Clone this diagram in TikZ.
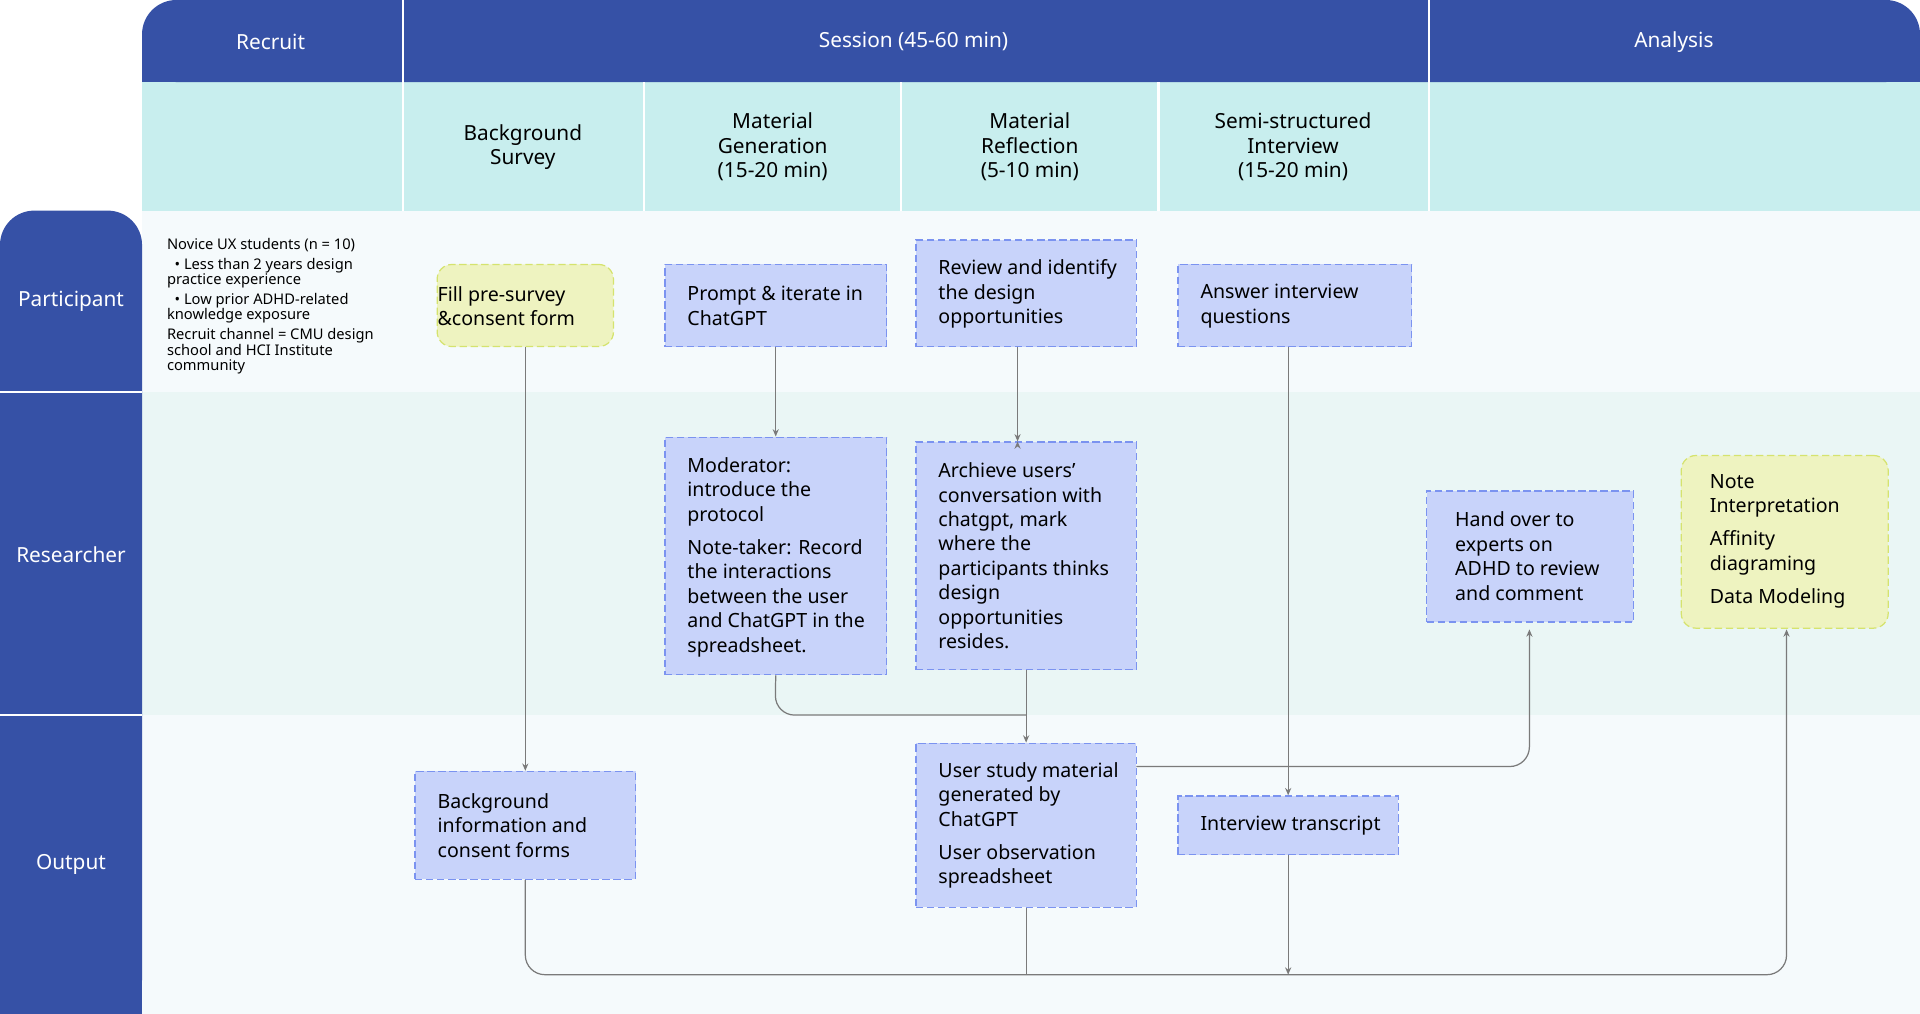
\documentclass[tikz,border=0pt]{standalone}
\usepackage{fontspec}
\setmainfont{Noto Sans}
\usetikzlibrary{fit,arrows.meta}
\definecolor{dblue}{HTML}{3651A6}
\definecolor{teal}{HTML}{C8EEEE}
\definecolor{rowA}{HTML}{F5FAFC}
\definecolor{rowB}{HTML}{EAF6F5}
\definecolor{bfill}{HTML}{C8D3FA}
\definecolor{bline}{HTML}{7B93F0}
\definecolor{yfill}{HTML}{EEF3C0}
\definecolor{yline}{HTML}{D5E36E}
\definecolor{conn}{HTML}{7A7A7A}
\begin{document}
\begin{tikzpicture}[x=0.5pt,y=-0.5pt,
  box/.style={draw=bline,fill=bfill,dash pattern=on 3pt off 1.5pt,line width=0.5pt,inner sep=0pt,align=left,font=\fontsize{8}{10}\selectfont},
  ybox/.style={box,draw=yline,fill=yfill,rounded corners=6pt},
  hd/.style={text=white,font=\fontsize{8.5}{10}\selectfont},
  sub/.style={align=center,font=\fontsize{8.5}{10}\selectfont},
  arr/.style={draw=conn,line width=0.5pt,-{Stealth[length=3pt,width=2.5pt]},rounded corners=8pt},
  ln/.style={draw=conn,line width=0.5pt,rounded corners=8pt}]
\useasboundingbox (0,0) rectangle (1568,828);
% backgrounds
\fill[rowA] (116,172) rectangle (1568,320);
\fill[rowB] (116,320) rectangle (1568,584);
\fill[rowA] (116,584) rectangle (1568,828);
\fill[teal] (116,67) rectangle (1568,172);
\fill[dblue,rounded corners=14pt] (116,67) -- (116,0) -- (1568,0) -- (1568,67) -- cycle;
\fill[dblue] (116,40) rectangle (1568,67);
\fill[dblue,rounded corners=14pt] (116,828) -- (0,828) -- (0,172) -- (116,172) -- cycle;
\fill[dblue] (0,600) rectangle (116,828);
\draw[white,line width=1pt] (329,0) -- (329,172) (1167,0) -- (1167,172);
\draw[white,line width=1pt] (526,67) -- (526,172) (736,67) -- (736,172) (946,67) -- (946,172);
\draw[white,line width=1pt] (0,320) -- (116,320) (0,584) -- (116,584);
% header labels
\node[hd] (h1) at (221,34) {Recruit};
\node[hd] (h2) at (746,34) {Session (45-60 min)};
\node[hd] (h3) at (1367,34) {Analysis};
\node[sub] (s1) at (427,120) {Background\\Survey};
\node[sub] (s2) at (631,120) {Material\\Generation\\(15-20 min)};
\node[sub] (s3) at (841,120) {Material\\Reflection\\(5-10 min)};
\node[sub] (s4) at (1056,120) {Semi-structured\\Interview\\(15-20 min)};
\node[hd] (r1) at (58,246) {Participant};
\node[hd] (r2) at (58,453) {Researcher};
\node[hd] (r3) at (58,706) {Output};
\node[anchor=north west,align=left,inner sep=0pt,font=\fontsize{6}{6.2}\selectfont] (rec) at (136,194)
 {Novice UX students (n = 10)\\[2pt]
 \ \ • Less than 2 years design\\practice experience\\[2pt]
 \ \ • Low prior ADHD-related\\knowledge exposure\\[2pt]
 Recruit channel = CMU design\\school and HCI Institute\\community};
% boxes
\node[ybox,fit={(339,216)(519,283)},text width=144pt*0.5] (fill) {};
\node[align=left,inner sep=0pt,font=\fontsize{8}{10}\selectfont,anchor=west] at (357,250) {Fill pre-survey\\\&consent form};
\node[box,fit={(543,216)(724,283)}] (prompt) {};
\node[align=left,inner sep=0pt,font=\fontsize{8}{10}\selectfont,anchor=west] at (561,250) {Prompt \& iterate in\\ChatGPT};
\node[box,fit={(748,196)(928,283)}] (review) {};
\node[align=left,inner sep=0pt,font=\fontsize{8}{10}\selectfont,anchor=west] at (766,240) {Review and identify\\the design\\opportunities};
\node[box,fit={(962,216)(1153,283)}] (answer) {};
\node[align=left,inner sep=0pt,font=\fontsize{8}{10}\selectfont,anchor=west] at (980,250) {Answer interview\\questions};
\node[box,fit={(543,357)(724,551)}] (mod) {};
\node[align=left,inner sep=0pt,font=\fontsize{8}{10}\selectfont,anchor=west] at (561,455) {Moderator:\\introduce the\\protocol\\[3.5pt]Note-taker: Record\\the interactions\\between the user\\and ChatGPT in the\\spreadsheet.};
\node[box,fit={(748,361)(928,547)}] (arch) {};
\node[align=left,inner sep=0pt,font=\fontsize{8}{10}\selectfont,anchor=west] at (766,454) {Archieve users'\\conversation with\\chatgpt, mark\\where the\\participants thinks\\design\\opportunities\\resides.};
\node[box,fit={(1165,401)(1334,508)}] (hand) {};
\node[align=left,inner sep=0pt,font=\fontsize{8}{10}\selectfont,anchor=west] at (1188,454) {Hand over to\\experts on\\ADHD to review\\and comment};
\node[ybox,fit={(1373,372)(1542,513)}] (note) {};
\node[align=left,inner sep=0pt,font=\fontsize{8}{10}\selectfont,anchor=west] at (1396,442) {Note\\Interpretation\\[3.5pt]Affinity\\diagraming\\[3.5pt]Data Modeling};
\node[box,fit={(339,630)(519,718)}] (bg) {};
\node[align=left,inner sep=0pt,font=\fontsize{8}{10}\selectfont,anchor=west] at (357,674) {Background\\information and\\consent forms};
\node[box,fit={(748,607)(928,741)}] (usm) {};
\node[align=left,inner sep=0pt,font=\fontsize{8}{10}\selectfont,anchor=west] at (766,674) {User study material\\generated by\\ChatGPT\\[3.5pt]User observation\\spreadsheet};
\node[box,fit={(962,650)(1142,698)}] (tr) {};
\node[align=left,inner sep=0pt,font=\fontsize{8}{10}\selectfont,anchor=west] at (980,674) {Interview transcript};
% connectors
\draw[arr] (fill.south) -- (bg.north);
\draw[arr] (prompt.south) -- (mod.north);
\draw[arr] (arch.north -| 831,0) ++(0,0) coordinate (an);
\draw[arr] (831,283) -- (an);
\draw[arr] (answer.south -| 1052,0) -- (tr.north -| 1052,0);
\draw[ln] (mod.south) -- (633,584) -- (838,584);
\draw[arr] (arch.south) -- (usm.north);
\draw[arr] (928,626) -- (1249,626) -- (1249,514);
\draw[arr] (bg.south) -- (429,796) -- (1459,796) -- (1459,514);
\draw[ln] (usm.south) -- (838,796);
\draw[arr] (tr.south -| 1052,0) -- (1052,796);
\end{tikzpicture}
\end{document}
